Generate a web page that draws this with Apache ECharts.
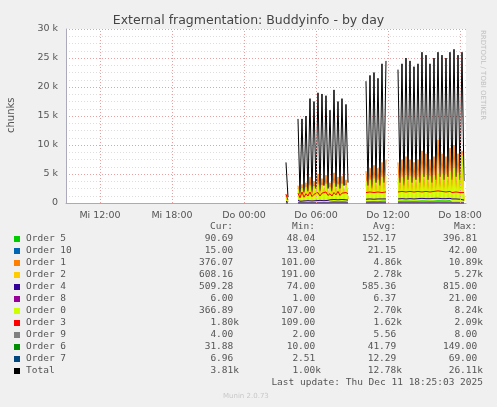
<!DOCTYPE html>
<html>
<head>
<meta charset="utf-8">
<script src="https://cdn.jsdelivr.net/npm/echarts@6/dist/echarts.min.js"></script>
<style>
  html, body { margin: 0; padding: 0; background: #f0f0f0; }
  #chart { width: 497px; height: 407px; }
</style>
</head>
<body>
<div id="chart"></div>
<script>
// hours since Wed Dec 10 00:00; samples every 10 minutes from Do 03:30
var startHour = 27.5;
var stepHour = 1 / 6;
var tickHours = [12, 18, 24, 30, 36, 42];
var tickNames = ['Mi 12:00', 'Mi 18:00', 'Do 00:00', 'Do 06:00', 'Do 12:00', 'Do 18:00'];

var N = null;
var total = [7000, 1000, N, N, N, N,
    14500, 1500, 14500, 1800, 15000, 2000, 18000, 1500, 17500, 2500, 19000, 2000, 18800, 3000, 18500, 2500, 16000, 2000, 19500, 2800, 17500, 2500, 18000, 3000, 17000, 3500,
    N, N, N, N, N, N, N, N,
    21000, 3000, 22000, 2500, 22500, 3500, 21500, 3000, 24000, 3500, 24500,
    N, N, N, N, N,
    23000, 3500, 24000, 3000, 25000, 4000, 24500, 3500, 23500, 4000, 24000, 3500, 26000, 4500, 25500, 4000, 24000, 3500, 25000, 4000, 26000, 4500, 25500, 4000, 25000, 4500, 26000, 4000, 26500, 4500, 25500, 4000, 26000, 3800];
var order1 = [1500, 200, N, N, N, N,
    3000, 300, 3200, 400, 3500, 400, 4500, 400, 3800, 500, 5000, 500, 4200, 600, 4800, 600, 3500, 500, 5200, 600, 4500, 600, 4600, 600, 4000, 700,
    N, N, N, N, N, N, N, N,
    5500, 700, 6000, 600, 6500, 800, 6000, 700, 7000, 800, 7500,
    N, N, N, N, N,
    7000, 800, 7500, 700, 8000, 900, 7500, 800, 7000, 900, 7500, 800, 9000, 1000, 8500, 900, 7500, 800, 8000, 900, 10890, 1000, 8500, 900, 8000, 1000, 9500, 900, 10000, 1000, 8500, 900, 9000, 376];
var order0 = [1200, 150, N, N, N, N,
    2500, 300, 2600, 400, 2800, 400, 3000, 350, 2900, 500, 3200, 450, 3100, 600, 3300, 500, 2800, 450, 3400, 600, 3200, 500, 3300, 600, 3100, 700,
    N, N, N, N, N, N, N, N,
    3800, 600, 4000, 500, 4200, 700, 4000, 600, 4500, 700, 4600,
    N, N, N, N, N,
    4300, 700, 4500, 600, 4800, 800, 4600, 700, 4400, 800, 4500, 700, 5000, 900, 4900, 800, 4600, 700, 4800, 800, 5200, 900, 5000, 800, 4900, 900, 5500, 800, 6000, 900, 5200, 800, 8240, 367];
var order2 = [800, 200, N, N, N, N,
    2000, 400, 2100, 500, 2200, 500, 2600, 450, 2400, 600, 2800, 500, 2700, 700, 2900, 600, 2300, 500, 3000, 700, 2700, 600, 2800, 700, 2600, 800,
    N, N, N, N, N, N, N, N,
    3200, 700, 3400, 600, 3500, 800, 3300, 700, 3700, 800, 3800,
    N, N, N, N, N,
    3600, 800, 3700, 700, 3900, 900, 3800, 800, 3600, 900, 3700, 800, 4100, 1000, 4000, 900, 3800, 800, 3900, 900, 4200, 1000, 4100, 900, 4000, 1000, 4400, 900, 5270, 1000, 4200, 900, 4300, 608];
var order3 = [1500, 500, N, N, N, N,
    1700, 900, 1900, 1000, 1600, 1200, 1900, 1100, 1500, 1300, 1800, 1200, 1700, 1400, 1900, 1300, 1600, 1200, 1800, 1400, 2000, 1300, 1700, 1500, 1800, 1600,
    N, N, N, N, N, N, N, N,
    1800, 1700, 1900, 1600, 1800, 1800, 1900, 1700, 1800, 1800, 1900,
    N, N, N, N, N,
    1900, 1800, 2000, 1800, 1900, 1900, 2000, 1800, 1900, 1900, 2000, 1800, 1900, 1900, 2000, 1800, 1900, 1900, 2000, 1800, 2090, 1900, 2000, 1800, 1900, 1900, 2000, 1800, 1900, 1900, 2000, 1800, 1900, 1800];
var order4 = [300, 100, N, N, N, N,
    500, 300, 550, 350, 500, 400, 600, 350, 550, 400, 600, 450, 550, 400, 600, 450, 550, 400, 600, 450, 550, 400, 600, 450, 550, 500,
    N, N, N, N, N, N, N, N,
    650, 600, 700, 600, 650, 650, 700, 600, 700, 650, 700,
    N, N, N, N, N,
    700, 650, 750, 650, 700, 700, 750, 650, 700, 700, 750, 650, 800, 700, 750, 700, 750, 650, 800, 700, 815, 700, 750, 700, 750, 700, 800, 700, 750, 700, 750, 650, 700, 509];
var order5 = [100, 50, N, N, N, N,
    150, 60, 160, 70, 180, 70, 200, 60, 170, 80, 220, 70, 200, 90, 240, 80, 180, 70, 250, 90, 220, 80, 230, 90, 210, 100,
    N, N, N, N, N, N, N, N,
    200, 90, 230, 80, 250, 100, 220, 90, 300, 100, 320,
    N, N, N, N, N,
    280, 100, 300, 90, 320, 110, 300, 100, 280, 110, 300, 100, 350, 120, 330, 110, 300, 100, 320, 110, 380, 120, 360, 110, 340, 120, 397, 110, 380, 120, 340, 110, 360, 91];
var order6 = [20, 10, N, N, N, N,
    40, 15, 45, 20, 50, 20, 60, 18, 55, 25, 70, 20, 60, 25, 80, 22, 50, 20, 90, 25, 70, 22, 75, 25, 65, 28,
    N, N, N, N, N, N, N, N,
    60, 25, 70, 22, 80, 28, 70, 25, 100, 28, 110,
    N, N, N, N, N,
    90, 28, 100, 25, 110, 30, 100, 28, 90, 30, 100, 28, 120, 32, 115, 30, 100, 28, 110, 30, 149, 32, 130, 30, 120, 32, 140, 30, 130, 32, 120, 30, 125, 32];
var order7 = [5, 3, N, N, N, N,
    10, 4, 12, 5, 14, 5, 16, 4, 14, 6, 18, 5, 15, 6, 20, 5, 12, 5, 22, 6, 18, 5, 19, 6, 16, 7,
    N, N, N, N, N, N, N, N,
    14, 6, 16, 5, 18, 7, 16, 6, 24, 7, 26,
    N, N, N, N, N,
    20, 7, 24, 6, 26, 8, 24, 7, 20, 8, 24, 7, 30, 8, 28, 7, 24, 7, 26, 8, 69, 8, 40, 7, 30, 8, 36, 7, 32, 8, 28, 7, 30, 7];
var order8 = [3, 1, N, N, N, N,
    5, 2, 6, 2, 6, 3, 7, 2, 6, 3, 8, 3, 7, 3, 8, 3, 6, 3, 9, 3, 8, 3, 8, 3, 7, 4,
    N, N, N, N, N, N, N, N,
    6, 4, 7, 3, 8, 4, 7, 4, 9, 4, 10,
    N, N, N, N, N,
    8, 4, 9, 4, 10, 5, 9, 4, 8, 5, 9, 4, 12, 5, 11, 5, 9, 4, 10, 5, 21, 5, 14, 5, 12, 5, 13, 5, 12, 5, 10, 5, 11, 6];
var order9 = [3, 2, N, N, N, N,
    5, 3, 5, 4, 6, 4, 6, 3, 5, 4, 6, 4, 6, 4, 7, 4, 5, 4, 7, 4, 6, 4, 6, 4, 6, 5,
    N, N, N, N, N, N, N, N,
    6, 5, 6, 5, 7, 5, 6, 5, 7, 5, 7,
    N, N, N, N, N,
    7, 5, 7, 5, 7, 6, 7, 5, 7, 6, 7, 5, 8, 6, 7, 6, 7, 5, 7, 6, 8, 6, 7, 6, 7, 6, 8, 6, 7, 6, 7, 5, 7, 4];
var order10 = [14, 13, N, N, N, N,
    18, 15, 20, 16, 20, 16, 22, 15, 20, 17, 24, 16, 22, 17, 25, 16, 20, 16, 26, 17, 24, 16, 24, 17, 22, 18,
    N, N, N, N, N, N, N, N,
    22, 18, 24, 17, 26, 19, 24, 18, 28, 19, 30,
    N, N, N, N, N,
    26, 19, 28, 18, 30, 20, 28, 19, 26, 20, 28, 19, 32, 20, 30, 20, 28, 19, 30, 20, 42, 20, 34, 20, 32, 20, 34, 20, 32, 20, 30, 19, 30, 15];

var legendRows = [
    ['Order 5', '#00cc00', '90.69 ', '48.04 ', '152.17 ', '396.81 '],
    ['Order 10', '#0066b3', '15.00 ', '13.00 ', '21.15 ', '42.00 '],
    ['Order 1', '#ff8000', '376.07 ', '101.00 ', '4.86k', '10.89k'],
    ['Order 2', '#ffcc00', '608.16 ', '191.00 ', '2.78k', '5.27k'],
    ['Order 4', '#330099', '509.28 ', '74.00 ', '585.36 ', '815.00 '],
    ['Order 8', '#990099', '6.00 ', '1.00 ', '6.37 ', '21.00 '],
    ['Order 0', '#ccff00', '366.89 ', '107.00 ', '2.70k', '8.24k'],
    ['Order 3', '#ff0000', '1.80k', '109.00 ', '1.62k', '2.09k'],
    ['Order 9', '#808080', '4.00 ', '2.00 ', '5.56 ', '8.00 '],
    ['Order 6', '#008f00', '31.88 ', '10.00 ', '41.79 ', '149.00 '],
    ['Order 7', '#00487d', '6.96 ', '2.51 ', '12.29 ', '69.00 '],
    ['Total', '#000000', '3.81k', '1.00k', '12.78k', '26.11k']
];
var seriesData = {
    'Order 5': order5, 'Order 10': order10, 'Order 1': order1, 'Order 2': order2,
    'Order 4': order4, 'Order 8': order8, 'Order 0': order0, 'Order 3': order3,
    'Order 9': order9, 'Order 6': order6, 'Order 7': order7, 'Total': total
};

var mono = '"DejaVu Sans Mono", monospace';
var chart = echarts.init(document.getElementById('chart'), null, { renderer: 'canvas' });

function pairs(arr) {
    return arr.map(function (v, i) { return [startHour + i * stepHour, v]; });
}

// draw order: Total first so orders sit on top
var drawOrder = ['Total', 'Order 1', 'Order 2', 'Order 0', 'Order 3', 'Order 4', 'Order 5', 'Order 6', 'Order 10', 'Order 7', 'Order 8', 'Order 9'];
var colorOf = {};
legendRows.forEach(function (r) { colorOf[r[0]] = r[1]; });

var series = drawOrder.map(function (name) {
    return {
        name: name,
        type: 'line',
        data: pairs(seriesData[name]),
        showSymbol: false,
        connectNulls: false,
        animation: false,
        lineStyle: { width: 1, color: colorOf[name] },
        areaStyle: name === 'Order 0' ? { color: '#ccff00', opacity: 0.9 } : undefined,
        z: name === 'Total' ? 1 : 2
    };
});
series[0].markLine = {
    silent: true, symbol: 'none', animation: false, label: { show: false },
    lineStyle: { color: '#e8a0a0', type: [1, 2], width: 1 },
    data: tickHours.map(function (h) { return { xAxis: h }; })
};

var graphics = [];
var cols = [239, 321, 402, 483];
['Cur:', 'Min:', 'Avg:', 'Max:'].forEach(function (h, i) {
    graphics.push({ type: 'text', right: 497 - cols[i] + 6, top: 222,
        style: { text: h, font: '9.5px ' + mono, fill: '#555' } });
});
legendRows.forEach(function (r, k) {
    var y = 234 + k * 12;
    graphics.push({ type: 'rect', shape: { x: 14, y: y + 2, width: 6, height: 6 }, style: { fill: r[1] } });
    graphics.push({ type: 'text', left: 26, top: y, style: { text: r[0], font: '9.5px ' + mono, fill: '#555' } });
    for (var i = 0; i < 4; i++) {
        graphics.push({ type: 'text', right: 497 - cols[i], top: y,
            style: { text: r[i + 2], font: '9.5px ' + mono, fill: '#555' } });
    }
});
graphics.push({ type: 'text', right: 14, top: 378,
    style: { text: 'Last update: Thu Dec 11 18:25:03 2025', font: '9.5px ' + mono, fill: '#555' } });
graphics.push({ type: 'text', left: 223, top: 393,
    style: { text: 'Munin 2.0.73', font: '7px "DejaVu Sans"', fill: '#c8c8c8' } });
graphics.push({ type: 'text', x: 486, y: 30, rotation: -Math.PI / 2,
    style: { text: 'RRDTOOL / TOBI OETIKER', font: '7px "DejaVu Sans"', fill: '#c0c0c0' } });
graphics.push({ type: 'text', x: 6, y: 133, rotation: Math.PI / 2,
    style: { text: 'chunks', font: '10px "DejaVu Sans"', fill: '#555' } });

var option = {
    backgroundColor: '#f0f0f0',
    title: {
        text: 'External fragmentation: Buddyinfo - by day',
        left: 'center', top: 9,
        textStyle: { fontFamily: 'DejaVu Sans', fontSize: 12.5, fontWeight: 'normal', color: '#444' }
    },
    grid: { left: 66, right: 31, top: 29, bottom: 204, show: true, backgroundColor: '#fff', borderWidth: 0 },
    xAxis: {
        type: 'value', min: 9.1667, max: 42.5,
        axisLine: { lineStyle: { color: '#aab' } },
        axisTick: { show: false },
        splitLine: { show: false },
        axisLabel: {
            customValues: tickHours, fontFamily: 'DejaVu Sans', fontSize: 9.5, color: '#555',
            formatter: function (v) { return tickNames[tickHours.indexOf(Math.round(v))] || ''; }
        }
    },
    yAxis: {
        type: 'value', min: 0, max: 30000, interval: 5000,
        axisLine: { show: true, lineStyle: { color: '#aab' } },
        axisTick: { show: false },
        axisLabel: {
            fontFamily: 'DejaVu Sans', fontSize: 9.5, color: '#555',
            formatter: function (v) { return v === 0 ? '0' : (v / 1000) + ' k'; }
        },
        splitLine: { lineStyle: { color: '#e8a0a0', type: [1, 2] } },
        minorTick: { show: false, splitNumber: 4 },
        minorSplitLine: { show: true, lineStyle: { color: '#ddd', type: [1, 2] } }
    },
    series: series,
    graphic: graphics
};
chart.setOption(option);
</script>
</body>
</html>
